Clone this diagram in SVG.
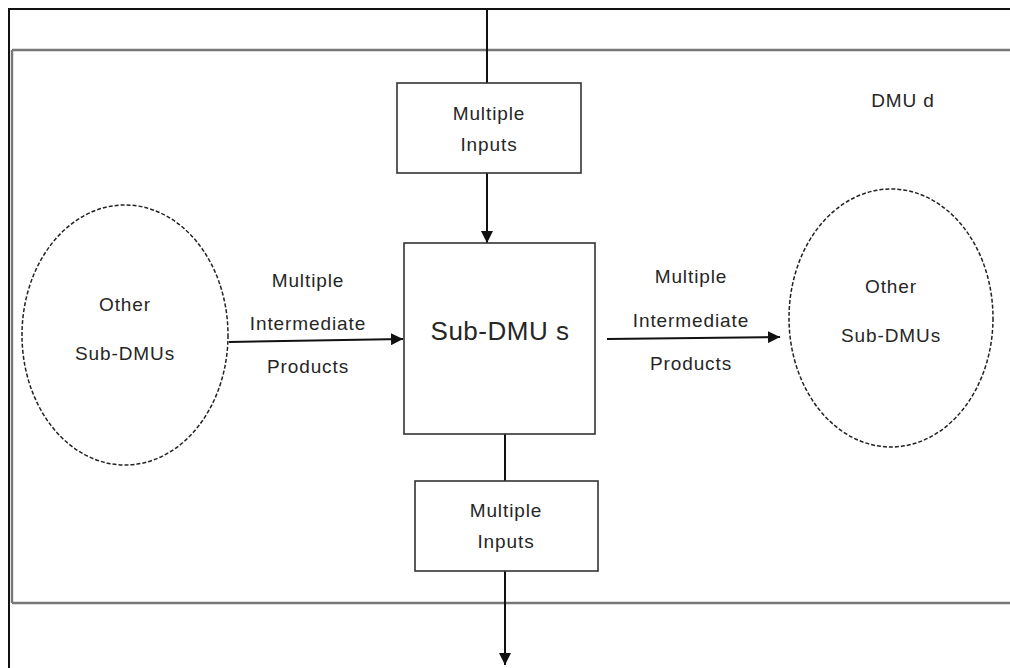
<svg xmlns="http://www.w3.org/2000/svg" width="1010" height="668" viewBox="0 0 1010 668">
<style>
text{font-family:"Liberation Sans","DejaVu Sans",sans-serif;fill:#262626;text-anchor:middle;font-size:19px;letter-spacing:0.9px}
.box{fill:#fff;stroke:#333;stroke-width:1.6}
.ell{fill:#fff;stroke:#222;stroke-width:1.5;stroke-dasharray:4 2}
.ln{stroke:#111;stroke-width:2;fill:none}
</style>
<defs>
<marker id="ah" viewBox="0 0 12 12" refX="12" refY="6" markerWidth="12" markerHeight="12" markerUnits="userSpaceOnUse" orient="auto">
<path d="M0,0 L12,6 L0,12 z" fill="#111"/>
</marker>
</defs>
<rect width="1010" height="668" fill="#fff"/>
<g id="frame">
<path d="M9,668 V9 H1010" fill="none" stroke="#111" stroke-width="2"/>
<path d="M12,50 H1010 M12,603 H1010 M12,50 V603" fill="none" stroke="#777" stroke-width="2.4"/>
<text x="903" y="107">DMU d</text>
</g>
<g id="connectors">
<line class="ln" x1="487" y1="9" x2="487" y2="83"/>
<line class="ln" x1="487" y1="173" x2="487" y2="243" marker-end="url(#ah)"/>
<line class="ln" x1="505" y1="434" x2="505" y2="481"/>
<line class="ln" x1="505" y1="571" x2="505" y2="665" marker-end="url(#ah)"/>
<line class="ln" x1="229" y1="342" x2="403" y2="339" marker-end="url(#ah)"/>
<line class="ln" x1="607" y1="339" x2="780" y2="337" marker-end="url(#ah)"/>
</g>
<g id="labels-left">
<text x="308" y="287">Multiple</text>
<text x="308" y="330">Intermediate</text>
<text x="308" y="373">Products</text>
</g>
<g id="labels-right">
<text x="691" y="283">Multiple</text>
<text x="691" y="327">Intermediate</text>
<text x="691" y="370">Products</text>
</g>
<g id="inputs-top">
<rect class="box" x="397" y="83" width="184" height="90"/>
<text x="489" y="120">Multiple</text>
<text x="489" y="151">Inputs</text>
</g>
<g id="sub-dmu">
<rect class="box" x="404" y="243" width="191" height="191"/>
<text x="500" y="340" style="font-size:26px;letter-spacing:0.5px">Sub-DMU s</text>
</g>
<g id="inputs-bottom">
<rect class="box" x="415" y="481" width="183" height="90"/>
<text x="506" y="517">Multiple</text>
<text x="506" y="548">Inputs</text>
</g>
<g id="other-left">
<ellipse class="ell" cx="125" cy="335" rx="103" ry="130"/>
<text x="125" y="311">Other</text>
<text x="125" y="360">Sub-DMUs</text>
</g>
<g id="other-right">
<ellipse class="ell" cx="891" cy="318" rx="102" ry="129"/>
<text x="891" y="293">Other</text>
<text x="891" y="342">Sub-DMUs</text>
</g>
</svg>
